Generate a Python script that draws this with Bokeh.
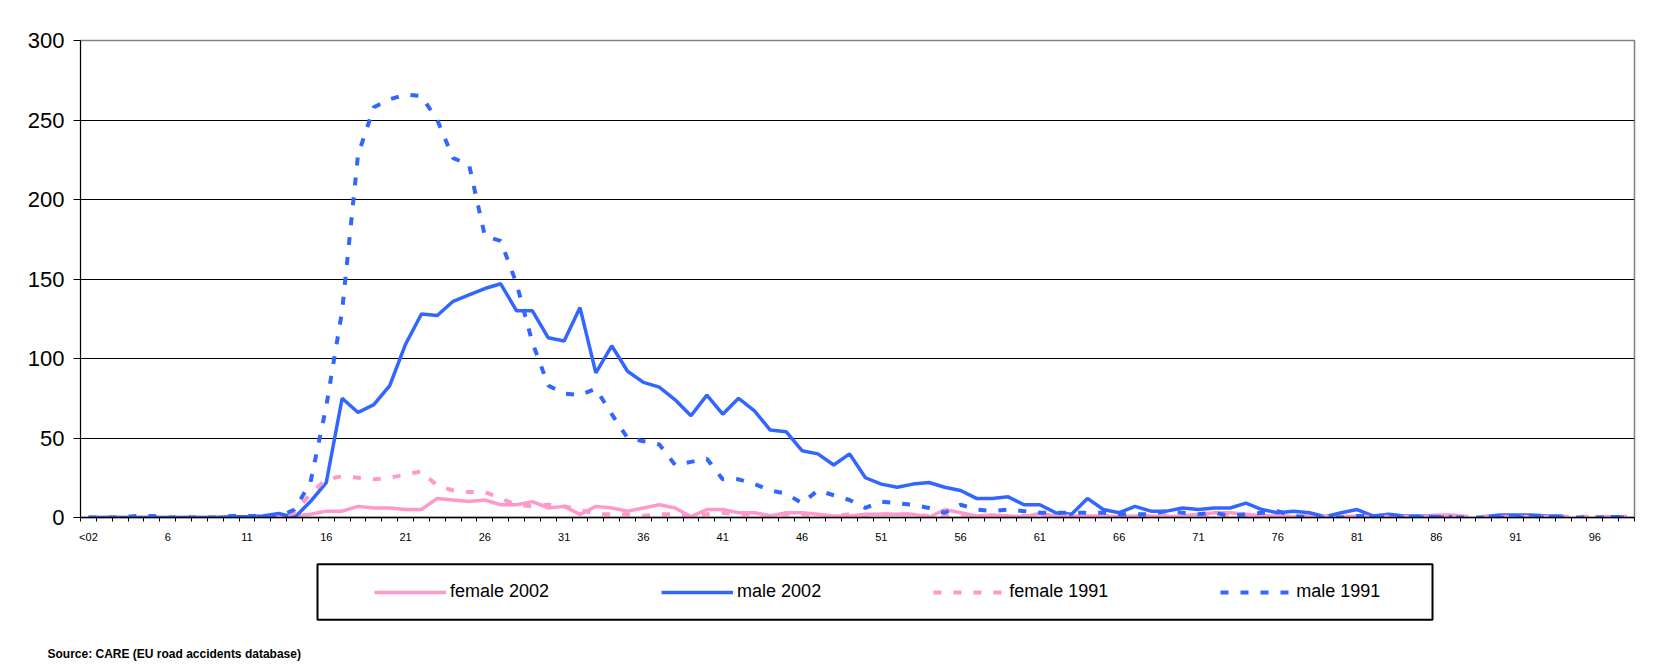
import numpy as np
from bokeh.plotting import figure
from bokeh.layouts import column
from bokeh.models import FixedTicker, Legend, LegendItem, Title, Range1d, BoxAnnotation
from bokeh.embed import file_html
from bokeh.resources import INLINE

nan = float("nan")

# categories: "<02", 2, 3, ..., 98
ages = ["<02"] + [str(a) for a in range(2, 99)]

female_2002 = [0, 0, 0, 0, 0, 0, 0, 0, 0, 0, 0, 0, 0,
               1, 2, 4, 4, 7, 6, 6, 5, 5, 12, 11, 10, 11, 8, 8, 10, 6, 7, 2, 7, 6, 4,
               6, 8, 6, 0.5, 5, 5, 3, 3, 1, 3, 3, 2, 1, 1, 2, 2, 2, 2, 0, 5, 3, 1, 1.5, 1, 0.5,
               2.5, 1, 1, 1, 1, 0.5, 1, 1, 0.5, 1, 2, 3, 3, 2, 1, 1, 0.5, 1, 0.5, 0.5, 1, 0.5, 0.5, 0.5,
               0.5, 1.5, 1.5, 0.5, nan, nan, nan, nan, nan, nan, nan, 0.5, 0.5, nan]

male_2002 = [0, 0, 0, 0, 0, 0, 0, 0, 0, 0.5, 0.5, 1, 2.5,
             0, 10, 22, 75, 66, 71, 83, 109, 128, 127, 136, 140, 144, 147, 130, 130, 113, 111, 132, 91, 108, 92,
             85, 82, 74, 64, 77, 65, 75, 67, 55, 54, 42, 40, 33, 40, 25, 21, 19, 21, 22, 19, 17, 12, 12, 13, 8,
             8, 3, 2, 12, 5, 3, 7, 4, 4, 6, 5, 6, 6, 9, 5, 3, 4, 3, 0.5, 3, 5, 1, 2, 1,
             1, 0.5, 0.5, nan, 0.5, 1.5, 1.5, 1.5, 1, 1, nan, nan, 0.5, 0.5]

female_1991 = [0, 0, 0, 0, 0, 0, 0, 0, 0, 0, 0, 0, 0,
               3, 15, 24, 26, 25, 24, 25, 27, 29, 20, 17, 16, 16, 12, 8, 7, 8, 7, 5, 2, 2, 2,
               1, 2, 2, 1, 2, 3, 2, 2, 1, 2, 2, 1, 1, 2, 1, 2, 2, 2, 1, 1, 2, 1, 1, 1, 1,
               1, 1, 1, 0.5, 1, 1, 0.5, 1, 1, 0.5, 1, 1, 1, 0.5, 1, 1, 0.5, 0.5, 0.5, 0.5, 0.5, 0.5, 0.5, 0.5,
               0.5, 0.5, 0.5, 0.5, 0.5, 0.5, 0.5, 0.5, 0.5, 0.5, 0.5, 0.5, 0.5, 0.5]

male_1991 = [0, 0, 0, 1, 1, 0, 0, 0, 0, 1, 1, 1, 0.5,
             5, 22, 70, 130, 228, 258, 263, 266, 265, 250, 226, 222, 177, 174, 147, 110, 83, 78, 77, 81, 65, 50,
             48, 46, 33, 35, 37, 24, 24, 21, 17, 15, 9, 17, 14, 11, 6, 10, 9, 8, 6, 3, 8, 5, 4, 5, 4,
             3, 3, 3, 3, 3, 2, 2, 2, 4, 3, 2, 3, 1, 2, 3, 4, 1, 0, 0, 0, 1, 1, 0, 0,
             0, 0, 0, 0, 0, 0, 0, 0, 0, 0, 0, 0, 0, 0]

series_names = ["female 2002", "male 2002", "female 1991", "male 1991"]
y_ticks = [0, 50, 100, 150, 200, 250, 300]
source_text = "Source: CARE (EU road accidents database)"

PINK = "#FF99CC"
BLUE = "#3366FF"
FONT = "Liberation Sans"

n = len(ages)
x = list(range(n))

W = 1669
fig = figure(width=W, height=552,
             min_border_left=80, min_border_right=35, min_border_top=40, min_border_bottom=35,
             x_range=Range1d(-0.5, n - 0.5), y_range=Range1d(0, 300),
             output_backend="svg", toolbar_location=None)
fig.background_fill_color = "white"
fig.border_fill_color = "white"
fig.outline_line_color = "#808080"
fig.outline_line_width = 1.5

fig.yaxis.ticker = FixedTicker(ticks=y_ticks)
fig.yaxis.major_label_text_font = FONT
fig.yaxis.major_label_text_font_size = "22px"
fig.yaxis.major_label_text_color = "black"
fig.yaxis.major_tick_out = 7
fig.yaxis.major_tick_in = 0
fig.yaxis.minor_tick_out = 0
fig.yaxis.axis_line_color = "black"
fig.yaxis.major_tick_line_color = "black"
fig.yaxis.major_label_standoff = 9

label_idx = list(range(0, n, 5))
fig.xaxis.ticker = FixedTicker(ticks=label_idx, minor_ticks=[i - 0.5 for i in range(n + 1)])
fig.xaxis.major_label_overrides = {i: ages[i] for i in label_idx}
fig.xaxis.major_label_text_font = FONT
fig.xaxis.major_label_text_font_size = "11px"
fig.xaxis.major_label_text_color = "black"
fig.xaxis.major_tick_out = 0
fig.xaxis.major_tick_in = 0
fig.xaxis.minor_tick_out = 4
fig.xaxis.minor_tick_in = 0
fig.xaxis.minor_tick_line_color = "black"
fig.xaxis.axis_line_color = "black"
fig.xaxis.axis_line_width = 1.5
fig.xaxis.major_label_standoff = 9

fig.xgrid.visible = False
fig.ygrid.ticker = FixedTicker(ticks=[50, 100, 150, 200, 250])
fig.ygrid.grid_line_color = "black"
fig.ygrid.grid_line_width = 1

styles = [dict(line_color=PINK, line_width=3.5),
          dict(line_color=BLUE, line_width=3.5),
          dict(line_color=PINK, line_width=4, line_dash="8 12"),
          dict(line_color=BLUE, line_width=4, line_dash="8 12")]
for ys, st in zip([female_2002, male_2002, female_1991, male_1991], styles):
    fig.line(x, ys, **st)

# legend + source panel; its frame is aligned with the chart frame (x 80..1634)
leg = figure(width=W, height=116, x_range=Range1d(80, 1634), y_range=Range1d(0, 86),
             x_axis_location=None, y_axis_location=None,
             min_border_top=0, min_border_bottom=30, min_border_left=0, min_border_right=0,
             output_backend="svg", toolbar_location=None)
leg.grid.visible = False
leg.outline_line_color = None
leg.background_fill_color = "white"
leg.border_fill_color = "white"

leg.add_layout(BoxAnnotation(left=317, right=1432, bottom=18, top=74,
                             fill_color="white", fill_alpha=1,
                             line_color="black", line_alpha=1, line_width=2))

items = []
for name, st in zip(series_names, styles):
    r = leg.line([nan], [nan], **st)
    items.append(LegendItem(label=name, renderers=[r]))

legend = Legend(items=items, orientation="horizontal", location=(294, 35),
                border_line_color=None, background_fill_alpha=0,
                padding=18, spacing=112, margin=0,
                glyph_width=72, glyph_height=20, label_standoff=4,
                label_text_font=FONT, label_text_font_size="18px", label_text_color="black")
leg.add_layout(legend)

leg.add_layout(Title(text=source_text, align="left", offset=-33, standoff=15,
                     text_font=FONT, text_font_size="12px", text_font_style="bold",
                     text_color="black"), "below")

p = column(fig, leg, spacing=0)

open("out.html", "w").write(file_html(p, INLINE))
